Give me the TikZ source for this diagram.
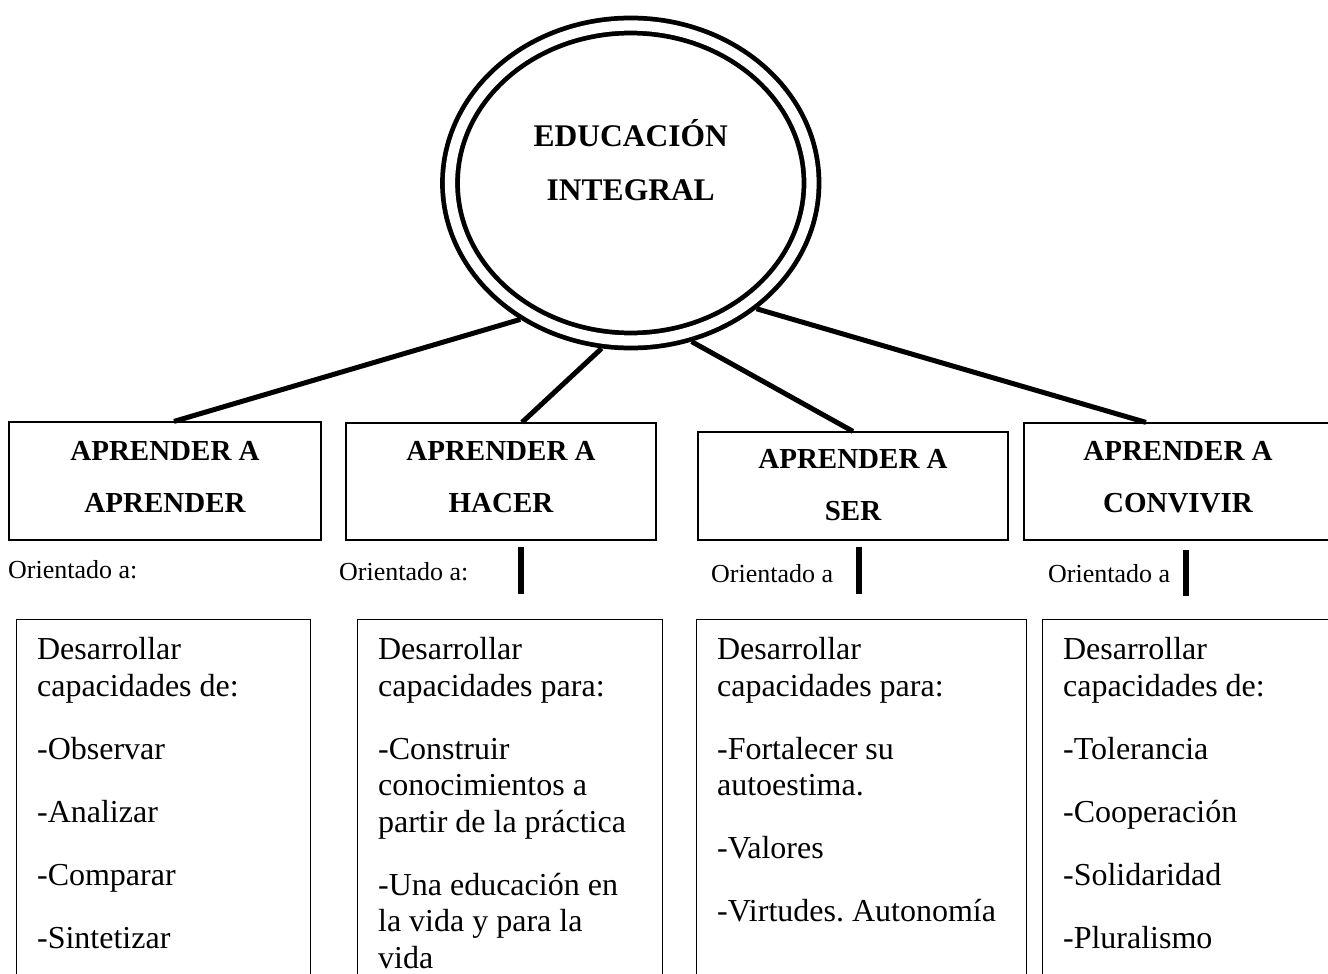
\documentclass[tikz,border=0pt]{standalone}
\usepackage{fontspec}
\setmainfont{Liberation Serif}
\usepackage{tikz}
\usetikzlibrary{shapes.geometric}

\newcommand{\lowfont}{\fontsize{32}{36.5}\selectfont\setlength{\parskip}{26.5pt}\raggedright}

\begin{document}
\frenchspacing
\begin{tikzpicture}[x=1pt, y=-1pt,
    topbox/.style={draw, line width=1.2pt, align=center, inner sep=0pt,
        font=\bfseries\fontsize{29}{52}\selectfont, text depth=9pt},
    lowbox/.style={draw, line width=1.2pt, anchor=north west,
        inner xsep=20.5pt, inner ysep=18pt},
    branch/.style={line width=5pt},
    bar/.style={line width=6pt},
    orient/.style={anchor=base west, inner sep=0pt, font=\fontsize{26}{30}\selectfont}]
    \useasboundingbox (0,0) rectangle (1328,974);
    \clip (0,0) rectangle (1328,974);

    % Central ellipse
    \node[ellipse, draw, double, line width=4.75pt, double distance=10.25pt,
        minimum width=361.5pt, minimum height=315pt, inner sep=0pt, outer sep=9.875pt] (edu) at (630.75,183) {};
    \node[align=center, font=\bfseries\fontsize{31.5}{54}\selectfont] (edutext) at ([yshift=23pt]edu.center) {EDUCACIÓN\\INTEGRAL};

    % Four pillars
    \node[topbox, minimum width=312pt, minimum height=118pt] (aprender) at (165,481) {APRENDER A\\APRENDER};
    \node[topbox, minimum width=310pt, minimum height=117pt] (hacer) at (501,481.5) {APRENDER A\\HACER};
    \node[topbox, minimum width=310pt, minimum height=108pt, text depth=3pt] (ser) at (853,486) {APRENDER A\\SER};
    \node[topbox, minimum width=308pt, minimum height=117pt] (convivir) at (1178,481.5) {APRENDER A\\CONVIVIR};

    \draw[branch] (edu.231.8) -- ([xshift=9pt]aprender.north);
    \draw[branch] (edu.260.6) -- ([xshift=21pt]hacer.north);
    \draw[branch] (edu.291.3) -- (ser.north);
    \draw[branch] (edu.315.5) -- ([xshift=-32pt]convivir.north);

    % Orientado a
    \node[orient] (orient1) at (8,578) {Orientado a:};
    \node[orient] (orient2) at (339,580) {Orientado a:};
    \node[orient] (orient3) at (711,582) {Orientado a};
    \node[orient] (orient4) at (1048,582) {Orientado a};

    \coordinate (bar2a) at (521,547); \coordinate (bar2b) at (521,594);
    \coordinate (bar3a) at (859,547); \coordinate (bar3b) at (859,594);
    \coordinate (bar4a) at (1186,550); \coordinate (bar4b) at (1186,596);
    \draw[bar] (bar2a) -- (bar2b);
    \draw[bar] (bar3a) -- (bar3b);
    \draw[bar] (bar4a) -- (bar4b);

    % Capacities
    \node[lowbox] (cap1) at (16,619) {\parbox[t][380pt][t]{253pt}{\lowfont
        Desarrollar\\capacidades de:\par
        -Observar\par -Analizar\par -Comparar\par -Sintetizar}};
    \node[lowbox] (cap2) at (357,619) {\parbox[t][380pt][t]{264pt}{\lowfont
        Desarrollar\\capacidades para:\par
        -Construir\\conocimientos a\\partir de la práctica\par
        -Una educación en\\la vida y para la\\vida}};
    \node[lowbox] (cap3) at (696,619) {\parbox[t][380pt][t]{289pt}{\lowfont
        Desarrollar\\capacidades para:\par
        -Fortalecer su\\autoestima.\par -Valores\par -Virtudes. Autonomía}};
    \node[lowbox] (cap4) at (1042,619) {\parbox[t][380pt][t]{262pt}{\lowfont
        Desarrollar\\capacidades de:\par
        -Tolerancia\par -Cooperación\par -Solidaridad\par -Pluralismo}};
\end{tikzpicture}
\end{document}
